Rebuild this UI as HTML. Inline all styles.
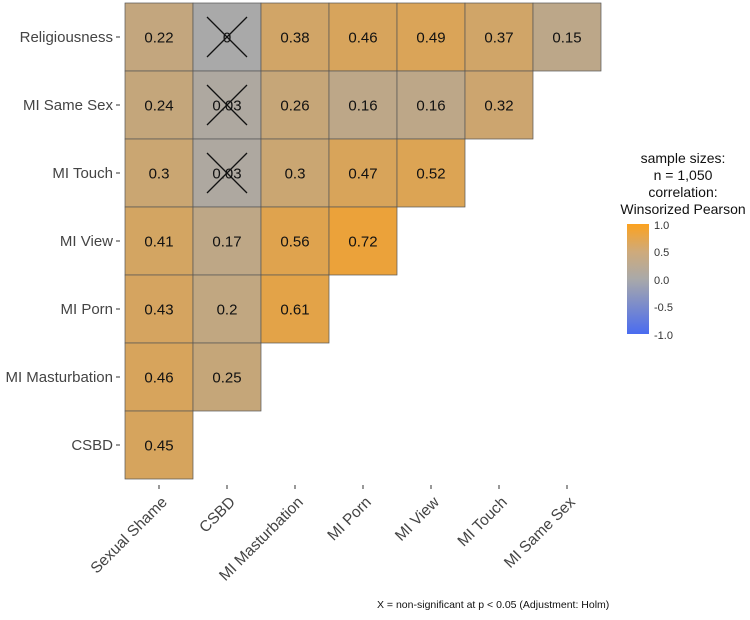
<!DOCTYPE html>
<html><head><meta charset="utf-8"><style>
body{margin:0;background:#fff;width:750px;height:615px;overflow:hidden;font-family:"Liberation Sans",sans-serif}
</style></head><body>
<svg id="chart" width="750" height="615" xmlns="http://www.w3.org/2000/svg" font-family="Liberation Sans, sans-serif">
<defs><linearGradient id="lg" x1="0" y1="1" x2="0" y2="0">
<stop offset="0" stop-color="#4a6cf0"/><stop offset="0.5" stop-color="#a9a9a9"/><stop offset="0.75" stop-color="#cfaa7a"/><stop offset="1" stop-color="#fca21f"/></linearGradient></defs>
<g>
<text x="683" y="163" font-size="14" text-anchor="middle" fill="#111">sample sizes:</text>
<text x="683" y="180" font-size="14" text-anchor="middle" fill="#111">n = 1,050</text>
<text x="683" y="197" font-size="14" text-anchor="middle" fill="#111">correlation:</text>
<text x="683" y="214" font-size="14" text-anchor="middle" fill="#111">Winsorized Pearson</text>
<rect x="627" y="224" width="22" height="110" fill="url(#lg)"/>
<g font-size="11" fill="#333">
<text x="654" y="229">1.0</text><text x="654" y="256">0.5</text><text x="654" y="284">0.0</text><text x="654" y="311">-0.5</text><text x="654" y="339">-1.0</text></g>
</g>
<text x="377" y="608" font-size="10.5" fill="#111">X = non-significant at p &lt; 0.05 (Adjustment: Holm)</text>
</svg>
<script>
const rowLabels=["Religiousness","MI Same Sex","MI Touch","MI View","MI Porn","MI Masturbation","CSBD"];
const colLabels=["Sexual Shame","CSBD","MI Masturbation","MI Porn","MI View","MI Touch","MI Same Sex"];
const values=[[0.22,0,0.38,0.46,0.49,0.37,0.15],[0.24,0.03,0.26,0.16,0.16,0.32],[0.3,0.03,0.3,0.47,0.52],[0.41,0.17,0.56,0.72],[0.43,0.2,0.61],[0.46,0.25],[0.45]];
const nonsig=[[0,1],[1,1],[2,1]];
const svg=document.getElementById('chart');const NS="http://www.w3.org/2000/svg";
const X0=125,Y0=3,CW=68,CH=68;
const x=j=>X0+j*CW, y=i=>Y0+i*CH;
function color(v){const g=[169,169,169],o=[255,160,25],b=[74,108,240];const t=Math.pow(Math.abs(v),0.8),c=v>=0?o:b;return `rgb(${g.map((a,k)=>Math.round(a+(c[k]-a)*t)).join(',')})`;}
function el(t,a){const e=document.createElementNS(NS,t);for(const k in a)e.setAttribute(k,a[k]);svg.appendChild(e);return e;}
values.forEach((row,i)=>row.forEach((v,j)=>{
 const r=el('rect',{x:x(j),y:y(i),width:CW,height:CH,fill:color(v),stroke:'#555','stroke-width':0.7});
 
 
 const t=el('text',{x:x(j)+CW/2,y:y(i)+CH/2+5.5,'font-size':15,'text-anchor':'middle',fill:'#111'});t.textContent=String(v);
 
 
}));
nonsig.forEach(([i,j])=>{const cx=x(j)+CW/2,cy=y(i)+CH/2;
 const p=el('path',{d:`M${cx-20} ${cy-20}L${cx+20} ${cy+20}M${cx+20} ${cy-20}L${cx-20} ${cy+20}`,stroke:'#111','stroke-width':1.3});
 
 
});
rowLabels.forEach((l,i)=>{const cy=y(i)+CH/2;
 const t=el('text',{x:113,y:cy+5,'font-size':15,'text-anchor':'end',fill:'#444'});t.textContent=l;
 
 
 el('line',{x1:116,x2:120,y1:cy,y2:cy,stroke:'#333'});
});
colLabels.forEach((l,j)=>{const cx=x(j)+CW/2;
 el('line',{x1:cx,x2:cx,y1:485,y2:489,stroke:'#333'});
 const t=el('text',{x:cx+9,y:503,'font-size':15.5,'text-anchor':'end',fill:'#444',transform:`rotate(-45 ${cx+9} 503)`});t.textContent=l;
 
 
});
</script>
</body></html>
